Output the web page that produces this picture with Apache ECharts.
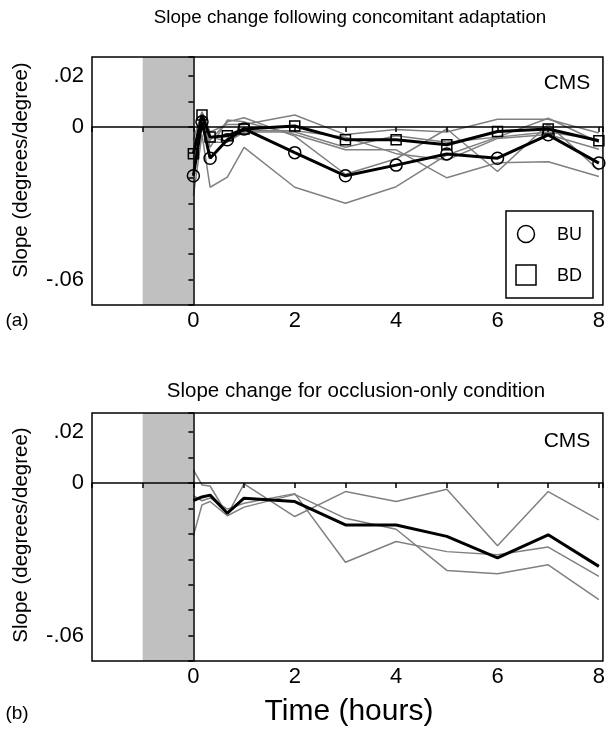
<!DOCTYPE html>
<html>
<head>
<meta charset="utf-8">
<script src="https://cdn.jsdelivr.net/npm/echarts@6/dist/echarts.min.js"></script>
<style>
html, body { margin: 0; padding: 0; background: #fff; }
#chart { width: 608px; height: 729px; }
</style>
</head>
<body>
<div id="chart"></div>
<script>
// sample times (hours)
const times = [0, 0.17, 0.33, 0.67, 1, 2, 3, 4, 5, 6, 7, 8];

// panel (a): group means
const bu = [-0.0192, 0.002, -0.0123, -0.0050, -0.0008, -0.0101, -0.0192, -0.0150, -0.0106, -0.0123, -0.0031, -0.0142];
const bd = [-0.0105, 0.0047, -0.0040, -0.0035, -0.0008, 0.0004, -0.0050, -0.0050, -0.0070, -0.0018, -0.0008, -0.0054];
// panel (a): individual subjects
const u1 = [-0.027, -0.003, -0.0237, -0.0197, -0.008, -0.0237, -0.030, -0.0235, -0.011, -0.004, 0.0034, -0.006];
const u2 = [-0.014, 0.004, -0.008, 0.0027, 0.002, -0.003, -0.009, -0.009, -0.020, -0.0141, -0.0137, -0.0195];
const u3 = [-0.0166, 0.005, -0.0052, 0.002, 0.0036, -0.0036, -0.0186, -0.0125, -0.0008, -0.0175, 0.001, -0.017];
const d1 = [-0.005, 0.006, -0.002, 0.001, 0.001, 0.0047, -0.003, -0.001, -0.002, 0.003, 0.003, -0.0024];
const d2 = [-0.012, 0.004, -0.006, -0.006, -0.002, -0.002, -0.008, -0.0035, -0.006, -0.004, -0.002, -0.005];
const d3 = [-0.0145, 0.004, -0.004, -0.0055, -0.0014, -0.0015, -0.004, -0.0105, -0.013, -0.0045, -0.003, -0.0088];

// panel (b): occlusion only
const occMean = [-0.0069, -0.0055, -0.0048, -0.0119, -0.006, -0.0073, -0.0165, -0.0165, -0.021, -0.0295, -0.0204, -0.0328];
const occA = [0.0051, -0.0008, -0.0012, -0.0125, -0.0004, -0.0132, -0.0034, -0.0073, -0.0025, -0.0247, -0.0034, -0.0145];
const occB = [-0.0208, -0.0086, -0.0073, -0.0129, -0.0095, -0.0045, -0.0139, -0.0182, -0.0344, -0.0357, -0.0322, -0.0459];
const occC = [-0.005, -0.007, -0.0059, -0.0103, -0.008, -0.0042, -0.0312, -0.023, -0.027, -0.0282, -0.0252, -0.0367];

const occlusionBand = [-1, 0];
const FONT = '"Liberation Sans", Arial, sans-serif';

const chart = echarts.init(document.getElementById('chart'), null, { renderer: 'canvas' });

function pts(vals) {
    return times.map((t, i) => [t, vals[i]]);
}

function xLabel(v) {
    const r = Math.round(v);
    return (Math.abs(v - r) < 1e-6 && r >= 0 && r % 2 === 0) ? String(r) : '';
}

function yLabel(v) {
    const k = Math.round(v * 100);
    if (Math.abs(v * 100 - k) > 1e-6) return '';
    if (k === 2) return '.02';
    if (k === 0) return '0';
    if (k === -6) return '-.06';
    return '';
}

function grid(top) {
    return { left: 92, top: top, width: 515, height: 248, show: true,
             borderColor: '#000', borderWidth: 1.5, z: 10, backgroundColor: 'transparent' };
}

function xAxes(g) {
    return [
        { gridIndex: g, type: 'value', min: -2, max: 8.08, interval: 2,
          axisLine: { show: false }, axisTick: { show: false }, splitLine: { show: false },
          axisLabel: { formatter: xLabel, color: '#000', fontSize: 22, fontFamily: FONT, margin: 5 } },
        { gridIndex: g, type: 'value', min: -2, max: 8.08, interval: 1, position: 'bottom', z: 5,
          axisLine: { show: true, onZero: true, lineStyle: { color: '#000', width: 1.5 } },
          axisTick: { show: true, length: 5, lineStyle: { color: '#000', width: 1.5 } },
          axisLabel: { show: false }, splitLine: { show: false } }
    ];
}

function yAxes(g) {
    return [
        { gridIndex: g, type: 'value', min: -0.07, max: 0.0275, interval: 0.01,
          axisLine: { show: false }, axisTick: { show: false }, splitLine: { show: false },
          axisLabel: { formatter: yLabel, color: '#000', fontSize: 22, fontFamily: FONT, margin: 8 } },
        { gridIndex: g, type: 'value', min: -0.07, max: 0.0275, interval: 0.01, position: 'left', z: 5,
          axisLine: { show: true, onZero: true, lineStyle: { color: '#000', width: 1.5 } },
          axisTick: { show: true, length: 5, lineStyle: { color: '#000', width: 1.5 } },
          axisLabel: { show: false }, splitLine: { show: false } }
    ];
}

function grayLine(vals, axis, band) {
    const s = {
        type: 'line', xAxisIndex: axis, yAxisIndex: axis, data: pts(vals),
        showSymbol: false, symbol: 'none', silent: true,
        lineStyle: { color: '#808080', width: 1.5 }
    };
    if (band) {
        s.markArea = {
            silent: true,
            itemStyle: { color: '#c0c0c0', opacity: 1 },
            data: [[{ xAxis: occlusionBand[0] }, { xAxis: occlusionBand[1] }]]
        };
    }
    return s;
}

function meanLine(name, vals, axis, symbol, size) {
    return {
        name: name, type: 'line', xAxisIndex: axis, yAxisIndex: axis, data: pts(vals),
        symbol: symbol, symbolSize: size, showSymbol: symbol !== 'none', silent: true,
        lineStyle: { color: '#000', width: 3 },
        itemStyle: { color: 'rgba(255,255,255,0)', borderColor: '#000', borderWidth: 1.5 }
    };
}

function txt(text, x, y, size, align, rot) {
    return {
        type: 'text', x: x, y: y, rotation: rot || 0, z: 20,
        style: { text: text, font: size + 'px ' + FONT, fill: '#000',
                 align: align || 'center', verticalAlign: 'middle',
                 textAlign: align || 'center', textVerticalAlign: 'middle' }
    };
}

const option = {
    animation: false,
    backgroundColor: '#fff',
    grid: [grid(57), grid(413)],
    xAxis: xAxes(0).concat(xAxes(1)),
    yAxis: yAxes(0).concat(yAxes(1)),
    series: [
        grayLine(u1, 0, true), grayLine(u2, 0), grayLine(u3, 0),
        grayLine(d1, 0), grayLine(d2, 0), grayLine(d3, 0),
        meanLine('BD', bd, 0, 'rect', 10),
        meanLine('BU', bu, 0, 'circle', 12),
        grayLine(occA, 2, true), grayLine(occB, 2), grayLine(occC, 2),
        meanLine('occlusion', occMean, 2, 'none', 0)
    ],
    graphic: [
        txt('Slope change following concomitant adaptation', 350, 18, 18.8),
        txt('Slope change for occlusion-only condition', 356, 391, 20.5),
        txt('Slope (degrees/degree)', 21, 170, 20.5, 'center', Math.PI / 2),
        txt('Slope (degrees/degree)', 21, 535, 20.5, 'center', Math.PI / 2),
        txt('(a)', 17, 321, 19),
        txt('(b)', 17, 714, 19),
        txt('Time (hours)', 349, 712, 30),
        txt('CMS', 567, 83, 21),
        txt('CMS', 567, 441, 21),
        { type: 'rect', z: 20, shape: { x: 506, y: 211, width: 87, height: 87 },
          style: { fill: '#fff', stroke: '#000', lineWidth: 1.5 } },
        { type: 'circle', z: 21, shape: { cx: 526, cy: 234, r: 8.5 },
          style: { fill: '#fff', stroke: '#000', lineWidth: 1.5 } },
        { type: 'rect', z: 21, shape: { x: 516, y: 265, width: 20, height: 20 },
          style: { fill: '#fff', stroke: '#000', lineWidth: 1.5 } },
        txt('BU', 557, 235, 18, 'left'),
        txt('BD', 557, 276, 18, 'left')
    ]
};

chart.setOption(option);
</script>
</body>
</html>
